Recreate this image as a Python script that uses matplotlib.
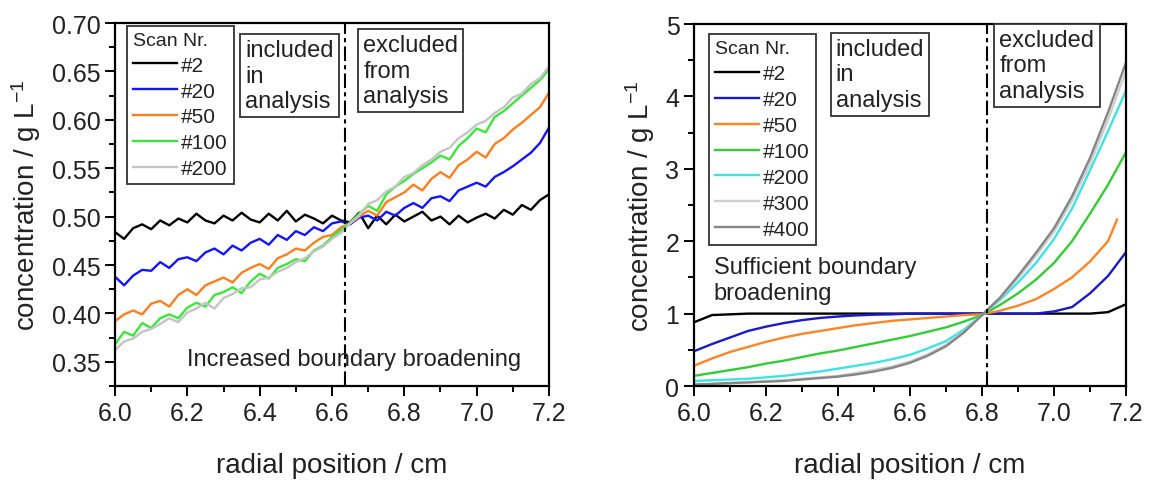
import numpy as np
import matplotlib
matplotlib.use("Agg")
import matplotlib.pyplot as plt
from matplotlib.ticker import MultipleLocator, FormatStrFormatter

plt.rcParams['font.family'] = ['Liberation Sans', 'DejaVu Sans']
plt.rcParams['mathtext.default'] = 'regular'

# ---- left panel: noisy scans, sampled every 0.025 cm ----
x_left = np.linspace(6.0, 7.2, 49)
left_labels = ["#2", "#20", "#50", "#100", "#200"]
left_colors = ["#000000", "#1414ff", "#ff7f1e", "#3ce63c", "#c4c4c4"]

scan2_l = [0.484, 0.477, 0.488, 0.492, 0.487, 0.496, 0.491,
           0.498, 0.494, 0.503, 0.496, 0.493, 0.501, 0.496,
           0.504, 0.497, 0.494, 0.503, 0.496, 0.506, 0.495,
           0.502, 0.498, 0.493, 0.501, 0.496, 0.494, 0.504,
           0.488, 0.501, 0.492, 0.502, 0.495, 0.500, 0.505,
           0.496, 0.500, 0.492, 0.501, 0.494, 0.499, 0.503,
           0.498, 0.507, 0.502, 0.512, 0.507, 0.517, 0.523]
scan20_l = [0.438, 0.429, 0.439, 0.445, 0.444, 0.453, 0.447,
            0.456, 0.458, 0.454, 0.463, 0.467, 0.461, 0.470,
            0.465, 0.473, 0.477, 0.471, 0.481, 0.476, 0.485,
            0.481, 0.489, 0.485, 0.493, 0.495, 0.492, 0.499,
            0.501, 0.496, 0.505, 0.501, 0.509, 0.514, 0.509,
            0.519, 0.521, 0.516, 0.527, 0.531, 0.535, 0.531,
            0.541, 0.546, 0.552, 0.559, 0.566, 0.576, 0.592]
scan50_l = [0.392, 0.399, 0.403, 0.399, 0.410, 0.413, 0.407,
            0.419, 0.425, 0.419, 0.429, 0.433, 0.437, 0.432,
            0.442, 0.447, 0.451, 0.446, 0.457, 0.461, 0.467,
            0.465, 0.473, 0.479, 0.481, 0.489, 0.493, 0.500,
            0.506, 0.501, 0.515, 0.520, 0.525, 0.533, 0.527,
            0.539, 0.546, 0.540, 0.553, 0.559, 0.567, 0.561,
            0.575, 0.581, 0.590, 0.597, 0.605, 0.613, 0.628]
scan100_l = [0.368, 0.381, 0.377, 0.390, 0.385, 0.395, 0.399,
             0.395, 0.406, 0.411, 0.407, 0.419, 0.422, 0.427,
             0.421, 0.433, 0.441, 0.436, 0.447, 0.451, 0.456,
             0.454, 0.465, 0.470, 0.479, 0.486, 0.494, 0.503,
             0.511, 0.506, 0.523, 0.531, 0.537, 0.544, 0.550,
             0.556, 0.563, 0.559, 0.573, 0.581, 0.591, 0.587,
             0.603, 0.609, 0.617, 0.625, 0.633, 0.641, 0.652]
scan200_l = [0.362, 0.371, 0.374, 0.381, 0.384, 0.389, 0.395,
             0.391, 0.401, 0.405, 0.411, 0.405, 0.416, 0.420,
             0.426, 0.427, 0.435, 0.437, 0.443, 0.447, 0.453,
             0.457, 0.464, 0.469, 0.477, 0.483, 0.493, 0.501,
             0.513, 0.517, 0.526, 0.531, 0.541, 0.545, 0.553,
             0.559, 0.567, 0.571, 0.581, 0.587, 0.595, 0.599,
             0.607, 0.613, 0.623, 0.627, 0.637, 0.643, 0.655]
left_series = [scan2_l, scan20_l, scan50_l, scan100_l, scan200_l]
cut_left = 6.635

# ---- right panel: smooth scans, sampled every 0.05 cm ----
x_right = [6.00, 6.05, 6.10, 6.15, 6.20, 6.25, 6.30, 6.35, 6.40, 6.45, 6.50, 6.55,
           6.60, 6.65, 6.70, 6.75, 6.80, 6.85, 6.90, 6.95, 7.00, 7.05, 7.10, 7.15, 7.20]
x_right50 = x_right[:-1] + [7.175]
right_labels = ["#2", "#20", "#50", "#100", "#200", "#300", "#400"]
right_colors = ["#000000", "#1a1acc", "#ff8426", "#33cc33", "#3de3e3", "#cfcfcf", "#858585"]

scan2_r = [0.88, 0.98, 0.99, 1.0, 1.0, 1.0, 1.0, 1.0, 1.0, 1.0, 1.0, 1.0,
           1.0, 1.0, 1.0, 1.0, 1.0, 1.0, 1.0, 1.0, 1.0, 1.0, 1.0, 1.02, 1.13]
scan20_r = [0.48, 0.58, 0.67, 0.76, 0.82, 0.87, 0.91, 0.94, 0.96, 0.975, 0.985, 0.99,
            1.0, 1.0, 1.0, 1.0, 1.0, 1.0, 1.0, 1.0, 1.03, 1.09, 1.28, 1.52, 1.85]
scan50_r = [0.28, 0.38, 0.47, 0.54, 0.61, 0.67, 0.72, 0.76, 0.80, 0.84, 0.87, 0.90,
            0.92, 0.94, 0.96, 0.98, 0.99, 1.04, 1.11, 1.20, 1.34, 1.50, 1.72, 2.00, 2.30]
scan100_r = [0.14, 0.18, 0.22, 0.26, 0.31, 0.35, 0.40, 0.45, 0.49, 0.54, 0.59, 0.64,
             0.69, 0.75, 0.81, 0.89, 0.98, 1.12, 1.28, 1.47, 1.70, 2.00, 2.38, 2.78, 3.23]
scan200_r = [0.07, 0.08, 0.09, 0.10, 0.12, 0.14, 0.17, 0.20, 0.24, 0.28, 0.32, 0.37,
             0.43, 0.52, 0.62, 0.78, 0.98, 1.19, 1.43, 1.70, 2.03, 2.45, 2.98, 3.52, 4.08]
scan300_r = [0.02, 0.03, 0.04, 0.05, 0.07, 0.08, 0.10, 0.12, 0.14, 0.18, 0.22, 0.27,
             0.34, 0.44, 0.57, 0.75, 0.98, 1.21, 1.49, 1.80, 2.13, 2.56, 3.07, 3.68, 4.35]
scan400_r = [0.02, 0.03, 0.04, 0.05, 0.06, 0.07, 0.09, 0.11, 0.13, 0.16, 0.20, 0.25,
             0.32, 0.42, 0.55, 0.74, 0.98, 1.22, 1.52, 1.84, 2.18, 2.62, 3.15, 3.78, 4.47]
right_series = [scan2_r, scan20_r, scan50_r, scan100_r, scan200_r, scan300_r, scan400_r]
right_x = [x_right, x_right, x_right50, x_right, x_right, x_right, x_right]
cut_right = 6.814

TXT = "#222222"


def style_axes(ax):
    for side in ["top", "right", "left", "bottom"]:
        ax.spines[side].set_linewidth(1.6)
    ax.tick_params(which="both", direction="out", top=False, right=False,
                   labelsize=18, width=1.4, labelcolor=TXT)
    ax.tick_params(which="major", length=7)
    ax.tick_params(which="minor", length=4)
    ax.set_xlim(6.0, 7.2)
    ax.xaxis.set_major_locator(MultipleLocator(0.2))
    ax.xaxis.set_minor_locator(MultipleLocator(0.1))
    ax.set_xlabel("radial position / cm", fontsize=20, labelpad=20, color=TXT)
    ax.set_ylabel("concentration / g L$^{-1}$", fontsize=20, labelpad=6, color=TXT)


def boxed(ax, x, y, s):
    ax.text(x, y, s, transform=ax.transAxes, ha="left", va="top", fontsize=17,
            color=TXT, linespacing=1.2,
            bbox=dict(boxstyle="square,pad=0.22", fc="white", ec="#333333", lw=1.3))


def scan_legend(ax, anchor):
    leg = ax.legend(loc="upper left", bbox_to_anchor=anchor, title="Scan Nr.",
                    alignment="left", fontsize=15, title_fontsize=14, frameon=True,
                    fancybox=False, edgecolor="#333333", framealpha=1,
                    handlelength=2.1, handletextpad=0.2, labelspacing=0.33,
                    borderpad=0.3, borderaxespad=0)
    leg.get_frame().set_linewidth(1.3)
    for t in leg.get_texts():
        t.set_color(TXT)
    leg.get_title().set_color(TXT)
    return leg


fig = plt.figure(figsize=(11.49, 4.81), dpi=100)
ax1 = fig.add_axes([0.1001, 0.1954, 0.3777, 0.7547])
ax2 = fig.add_axes([0.604, 0.1954, 0.376, 0.7526])

# left
for y, lab, col in zip(left_series, left_labels, left_colors):
    ax1.plot(x_left, y, color=col, lw=1.7, label=lab)
ax1.axvline(cut_left, color="black", lw=1.5, ls=(0, (7, 2, 2, 2)))
ax1.set_ylim(0.325, 0.70)
ax1.yaxis.set_major_locator(MultipleLocator(0.05))
ax1.yaxis.set_minor_locator(MultipleLocator(0.025))
ax1.yaxis.set_major_formatter(FormatStrFormatter("%.2f"))
style_axes(ax1)
scan_legend(ax1, (0.028, 0.993))
boxed(ax1, 0.300, 0.955, "included\nin\nanalysis")
boxed(ax1, 0.572, 0.969, "excluded\nfrom\nanalysis")
ax1.text(0.166, 0.074, "Increased boundary broadening", transform=ax1.transAxes,
         ha="left", va="center", fontsize=17, color=TXT)

# right
for xs, y, lab, col in zip(right_x, right_series, right_labels, right_colors):
    ax2.plot(xs, y, color=col, lw=1.7, label=lab)
ax2.axvline(cut_right, color="black", lw=1.5, ls=(0, (7, 2, 2, 2)))
ax2.set_ylim(0, 5)
ax2.yaxis.set_major_locator(MultipleLocator(1))
ax2.yaxis.set_minor_locator(MultipleLocator(0.5))
style_axes(ax2)
scan_legend(ax2, (0.035, 0.972))
boxed(ax2, 0.328, 0.962, "included\nin\nanalysis")
boxed(ax2, 0.707, 0.986, "excluded\nfrom\nanalysis")
ax2.text(0.046, 0.293, "Sufficient boundary\nbroadening", transform=ax2.transAxes,
         ha="left", va="center", fontsize=17, color=TXT, linespacing=1.2)

fig.savefig("out.png", dpi=100)
